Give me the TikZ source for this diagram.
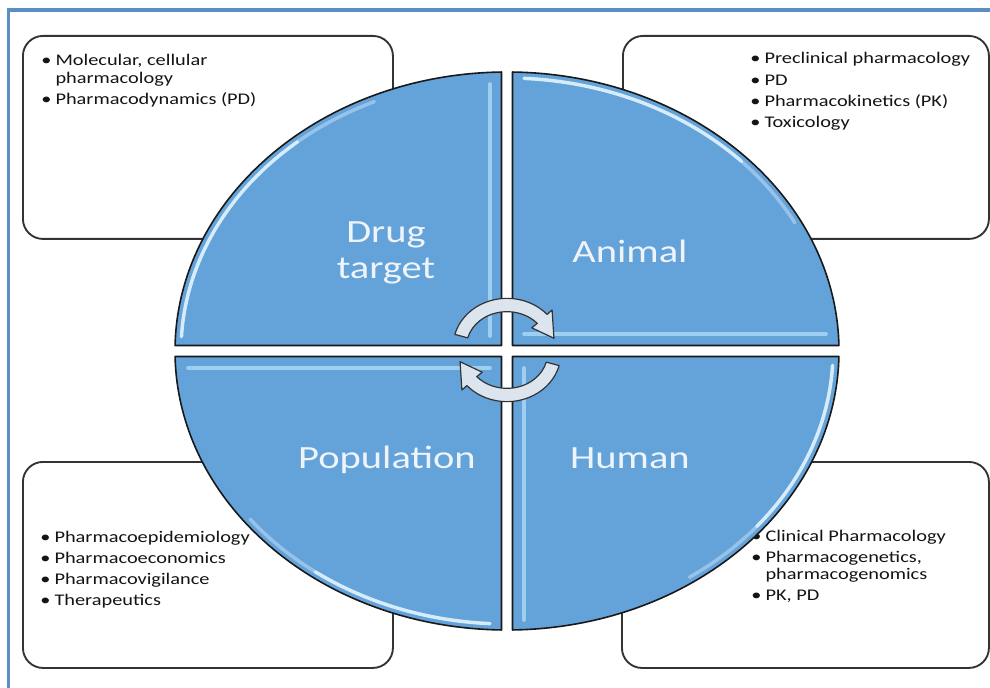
\documentclass[tikz,border=0pt]{standalone}
\usepackage{fontspec}
\setmainfont{Carlito}
\usetikzlibrary{calc}
\definecolor{frameblue}{HTML}{5B8EC2}
\definecolor{quadblue}{HTML}{64A2DA}
\definecolor{boxline}{HTML}{333333}
\definecolor{lbl}{HTML}{EEF4FA}
\definecolor{arrowfill}{HTML}{DCE5EE}
\definecolor{glow}{HTML}{E4F5FF}
\definecolor{edgeglow}{HTML}{A9D6F4}
\newcommand\hstretch[1]{\scalebox{1.25}[1]{#1}}
\begin{document}
\begin{tikzpicture}[x=0.75pt,y=0.75pt,
  infobox/.style={draw=boxline, line width=1.4pt, rounded corners=15pt, fill=white, anchor=north west, inner sep=0pt},
  listtext/.style={anchor=base west, inner sep=0pt, text=black!92, font=\fontsize{12.2}{12.8}\selectfont},
  quad/.style={fill=quadblue, draw=black!90, line width=1.2pt, line join=round},
  hl/.style={draw=glow, line width=2.6pt, line cap=round, opacity=0.9},
  hlfade/.style={draw=glow, line width=2.6pt, line cap=round, opacity=0.4},
  hledge/.style={draw=edgeglow, line width=2.8pt, line cap=round, opacity=0.85},
  qlabel/.style={text=lbl, inner sep=0pt, anchor=base, font=\fontsize{24.3}{27}\selectfont},
  cyc/.style={fill=arrowfill, draw=black!80, line width=0.9pt, line join=round}
]
\useasboundingbox (0,0) rectangle (990,-688);
\fill[white] (0,0) rectangle (990,-688);
\begin{scope}
\clip (0,0) rectangle (990,-688);
\draw[frameblue, line width=2.4pt] (8.5,-10) rectangle (1000,-700);
\end{scope}

% information boxes
\node[infobox, minimum width=277.5pt, minimum height=152.25pt] (boxTL) at (22,-35) {};
\node[infobox, minimum width=274.5pt, minimum height=152.25pt] (boxTR) at (622,-35) {};
\node[infobox, minimum width=277.5pt, minimum height=154.5pt] (boxBL) at (22,-461) {};
\node[infobox, minimum width=275.25pt, minimum height=154.5pt] (boxBR) at (621,-461) {};

\node[listtext] (txtTL) at (41,-66) {\hstretch{\begin{tabular}[t]{@{}l@{\hspace{2.5pt}}l@{}}\textbullet & Molecular, cellular\\ & pharmacology\\[3pt] \textbullet & Pharmacodynamics (PD)\end{tabular}}};
\node[listtext] (txtTR) at (750,-64) {\hstretch{\begin{tabular}[t]{@{}l@{\hspace{2.5pt}}l@{}}\textbullet & Preclinical pharmacology\\[3pt] \textbullet & PD\\[3pt] \textbullet & Pharmacokinetics (PK)\\[3pt] \textbullet & Toxicology\end{tabular}}};
\node[listtext] (txtBL) at (40,-542) {\hstretch{\begin{tabular}[t]{@{}l@{\hspace{2.5pt}}l@{}}\textbullet & Pharmacoepidemiology\\[3pt] \textbullet & Pharmacoeconomics\\[3pt] \textbullet & Pharmacovigilance\\[3pt] \textbullet & Therapeutics\end{tabular}}};
\node[listtext] (txtBR) at (751,-541) {\hstretch{\begin{tabular}[t]{@{}l@{\hspace{2.5pt}}l@{}}\textbullet & Clinical Pharmacology\\[3pt] \textbullet & Pharmacogenetics,\\ & pharmacogenomics\\[3pt] \textbullet & PK, PD\end{tabular}}};

% quadrants
\coordinate (C) at (507,-351);
\path[quad] (501.5,-345.5) -- ($(C)+(178.87:249pt and 209.25pt)$) arc[start angle=178.87, end angle=90.95, x radius=249pt, y radius=209.25pt] -- cycle;
\path[quad] (512.5,-345.5) -- ($(C)+(89.05:249pt and 209.25pt)$) arc[start angle=89.05, end angle=1.13, x radius=249pt, y radius=209.25pt] -- cycle;
\path[quad] (512.5,-356.5) -- ($(C)+(-1.13:249pt and 209.25pt)$) arc[start angle=-1.13, end angle=-89.05, x radius=249pt, y radius=209.25pt] -- cycle;
\path[quad] (501.5,-356.5) -- ($(C)+(-90.95:249pt and 209.25pt)$) arc[start angle=-90.95, end angle=-178.87, x radius=249pt, y radius=209.25pt] -- cycle;

% bevel highlights
\draw[hledge] (490,-84) -- (490,-336);
\draw[hledge] (524,-334) -- (826,-334);
\draw[hledge] (524,-368) -- (524,-620);
\draw[hledge] (188,-368) -- (490,-368);
\draw[hl] ($(C)+(177:244.5pt and 204.75pt)$) arc[start angle=177, end angle=130, x radius=244.5pt, y radius=204.75pt];
\draw[hlfade] ($(C)+(130:244.5pt and 204.75pt)$) arc[start angle=130, end angle=114, x radius=244.5pt, y radius=204.75pt];
\draw[hl] ($(C)+(87:244.5pt and 204.75pt)$) arc[start angle=87, end angle=44, x radius=244.5pt, y radius=204.75pt];
\draw[hlfade] ($(C)+(44:244.5pt and 204.75pt)$) arc[start angle=44, end angle=28, x radius=244.5pt, y radius=204.75pt];
\draw[hl] ($(C)+(-3:244.5pt and 204.75pt)$) arc[start angle=-3, end angle=-40, x radius=244.5pt, y radius=204.75pt];
\draw[hlfade] ($(C)+(-40:244.5pt and 204.75pt)$) arc[start angle=-40, end angle=-56, x radius=244.5pt, y radius=204.75pt];
\draw[hl] ($(C)+(-93:244.5pt and 204.75pt)$) arc[start angle=-93, end angle=-126, x radius=244.5pt, y radius=204.75pt];
\draw[hlfade] ($(C)+(-126:244.5pt and 204.75pt)$) arc[start angle=-126, end angle=-142, x radius=244.5pt, y radius=204.75pt];

% quadrant labels
\node[qlabel] (lDrug) at (386,-243) {\hstretch{\begin{tabular}[t]{@{}c@{}}Drug\\target\end{tabular}}};
\node[qlabel] (lAnimal) at (630,-263) {\hstretch{Animal}};
\node[qlabel] (lPop) at (387,-468) {\hstretch{Population}};
\node[qlabel] (lHuman) at (630,-468) {\hstretch{Human}};

% cycle arrows
\coordinate (O1) at (507,-347);
\coordinate (O2) at (507,-353);
\path[cyc] ($(O1)+(165:40.5pt and 36.5pt)$) arc[start angle=165, end angle=42, x radius=40.5pt, y radius=36.5pt]
  -- ($(O1)+(42:45.5pt and 41.5pt)$) -- ($(O1)+(12:36pt and 31.5pt)$) -- ($(O1)+(42:25pt and 21.5pt)$)
  -- ($(O1)+(42:30.5pt and 26.5pt)$) arc[start angle=42, end angle=165, x radius=30.5pt, y radius=26.5pt] -- cycle;
\path[cyc] ($(O2)+(345:40.5pt and 36.5pt)$) arc[start angle=345, end angle=222, x radius=40.5pt, y radius=36.5pt]
  -- ($(O2)+(222:45.5pt and 41.5pt)$) -- ($(O2)+(192:36pt and 31.5pt)$) -- ($(O2)+(222:25pt and 21.5pt)$)
  -- ($(O2)+(222:30.5pt and 26.5pt)$) arc[start angle=222, end angle=345, x radius=30.5pt, y radius=26.5pt] -- cycle;
\end{tikzpicture}
\end{document}
